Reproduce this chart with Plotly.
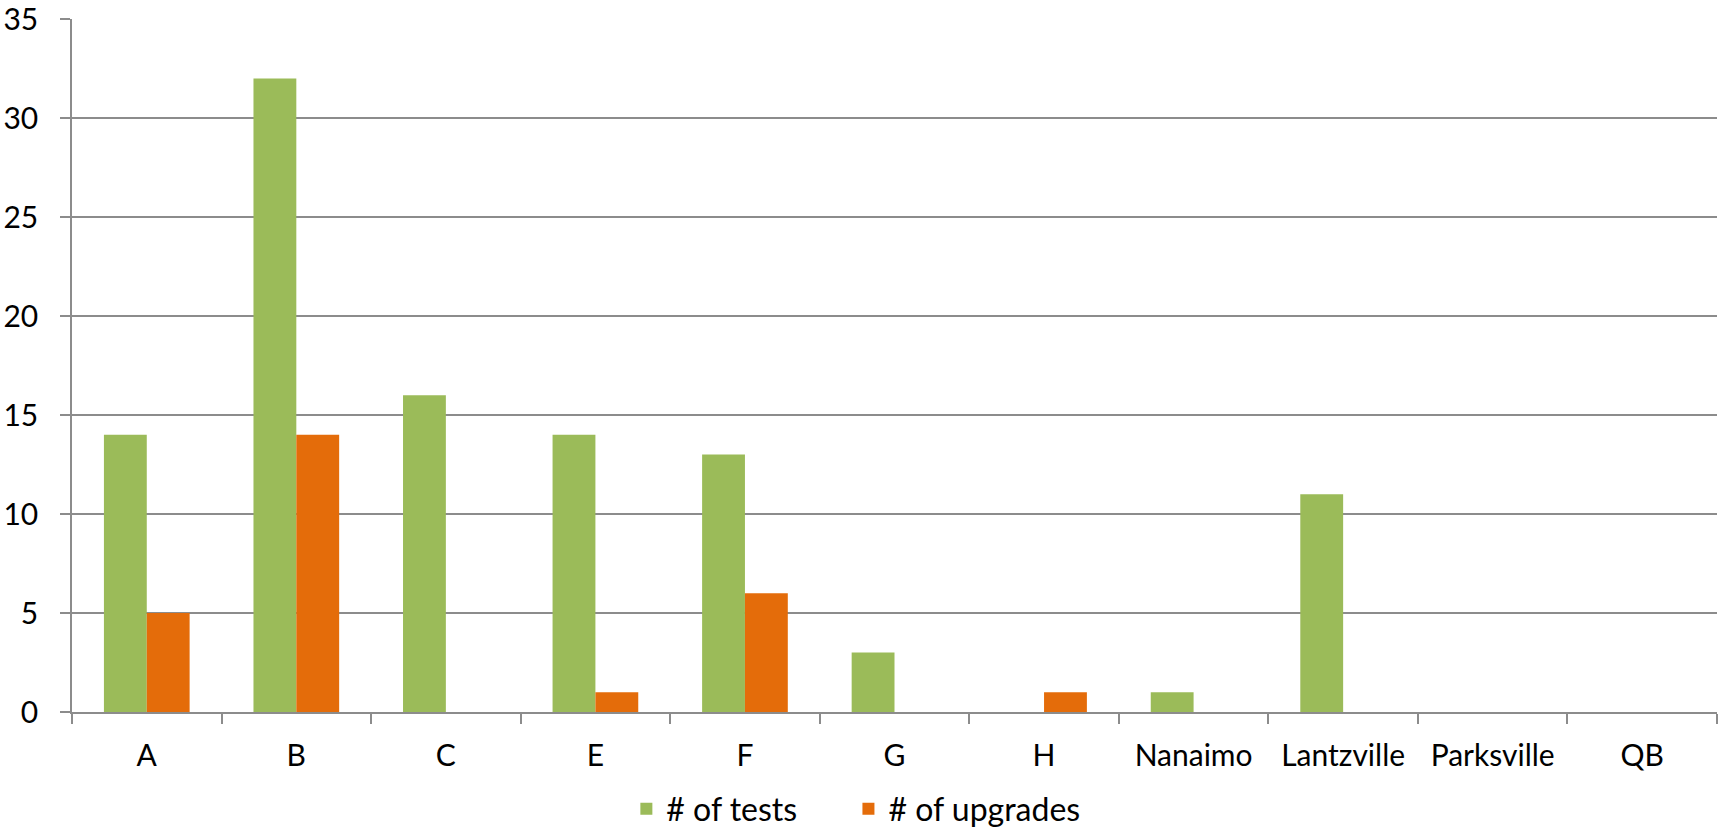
import plotly.graph_objects as go

categories = ["A", "B", "C", "E", "F", "G", "H", "Nanaimo", "Lantzville", "Parksville", "QB"]
tests = [14, 32, 16, 14, 13, 3, 0, 1, 11, 0, 0]
upgrades = [5, 14, 0, 1, 6, 0, 1, 0, 0, 0, 0]
y_ticks = [0, 5, 10, 15, 20, 25, 30, 35]

FONT = "Lato, Open Sans, sans-serif"
GRID = "#8c8c8c"

fig = go.Figure()
fig.add_trace(go.Bar(x=categories, y=tests, name="# of tests", legend="legend",
                     marker=dict(color="#9BBB59", line=dict(width=0))))
fig.add_trace(go.Bar(x=categories, y=upgrades, name="# of upgrades", legend="legend2",
                     marker=dict(color="#E46C0A", line=dict(width=0))))

leg_common = dict(orientation="h", xanchor="left", yref="container", y=0.023, yanchor="middle",
                  font=dict(size=32), itemwidth=30, bgcolor="rgba(0,0,0,0)")
fig.update_layout(
    template="none",
    width=1721, height=828,
    margin=dict(l=72, r=4, t=19, b=116),
    paper_bgcolor="white", plot_bgcolor="white",
    barmode="group", bargap=0.427, bargroupgap=0,
    font=dict(family=FONT, size=30, color="#000000"),
    legend=dict(x=0.337, **leg_common),
    legend2=dict(x=0.472, **leg_common),
    showlegend=True,
)
fig.update_yaxes(range=[0, 35], tickvals=y_ticks, showgrid=True, gridcolor=GRID, gridwidth=1.5,
                 showline=True, linecolor=GRID, linewidth=1.5, ticks="outside", ticklen=10,
                 tickcolor=GRID, tickwidth=1.5, zeroline=False, ticklabelstandoff=16,
                 tickfont=dict(size=30), automargin=False, ticklabeloverflow="allow")
fig.update_xaxes(showline=True, linecolor=GRID, linewidth=1.5, ticks="outside", ticklen=10,
                 tickcolor=GRID, tickwidth=1.5, tickson="boundaries", showgrid=False,
                 ticklabelstandoff=16, tickfont=dict(size=30), automargin=False, ticklabeloverflow="allow")

fig.write_html("out.html", config={"displayModeBar": False},
               post_script="document.body.style.margin='0px';document.body.style.overflow='hidden';")
